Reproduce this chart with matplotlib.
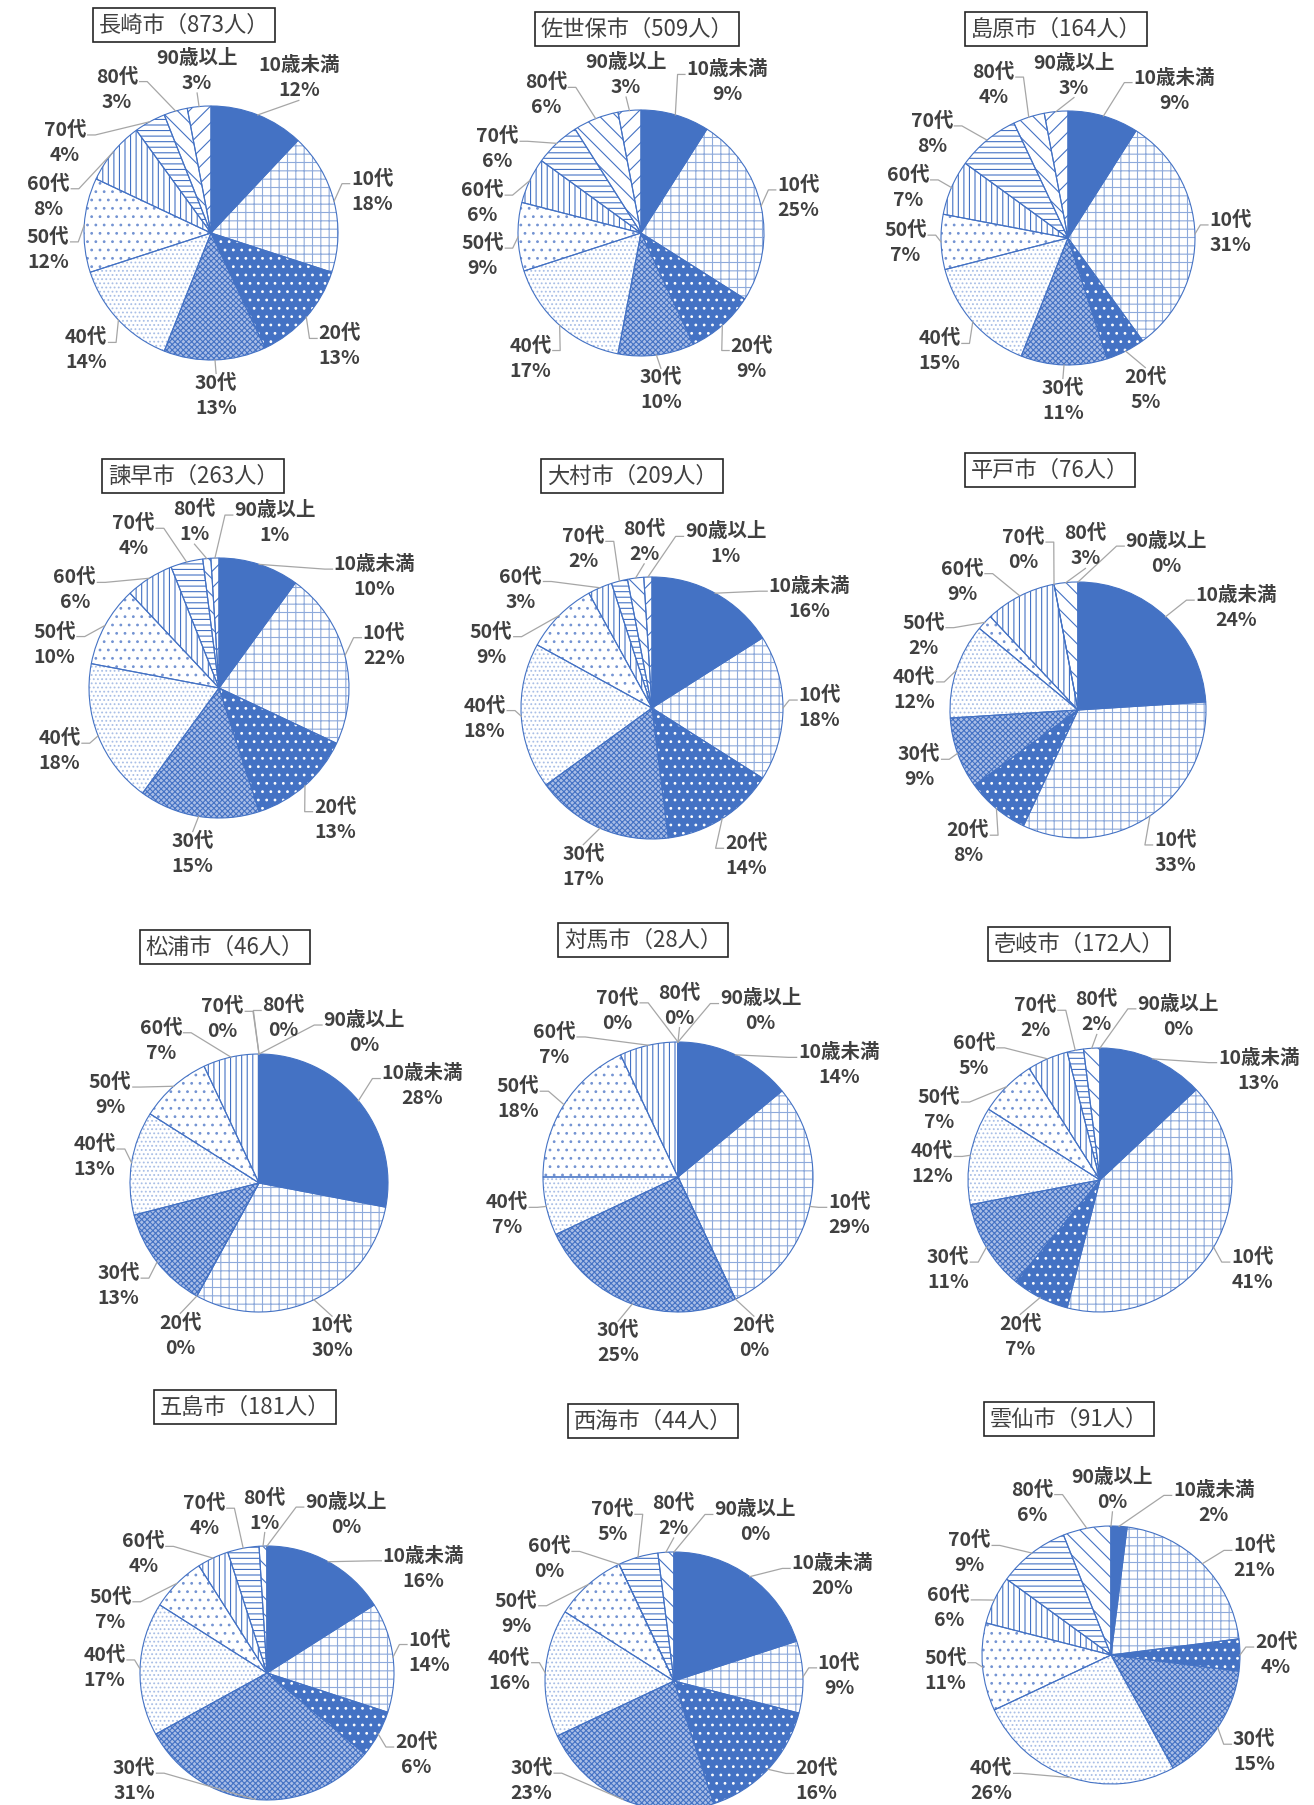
# %% Import packages
import numpy as np
import matplotlib.pyplot as plt

plt.rcParams['font.family'] = ['Noto Sans CJK JP', 'DejaVu Sans']
plt.rcParams['hatch.linewidth'] = 0.8

# %% Data (percent by age group)
ages = ['10歳未満', '10代', '20代', '30代', '40代', '50代', '60代', '70代', '80代', '90歳以上']

cities = ['長崎市', '佐世保市', '島原市', '諫早市', '大村市', '平戸市',
          '松浦市', '対馬市', '壱岐市', '五島市', '西海市', '雲仙市']
people = [873, 509, 164, 263, 209, 76, 46, 28, 172, 181, 44, 91]

nagasaki = [12, 18, 13, 13, 14, 12, 8, 4, 3, 3]
sasebo = [9, 25, 9, 10, 17, 9, 6, 6, 6, 3]
shimabara = [9, 31, 5, 11, 15, 7, 7, 8, 4, 3]
isahaya = [10, 22, 13, 15, 18, 10, 6, 4, 1, 1]
omura = [16, 18, 14, 17, 18, 9, 3, 2, 2, 1]
hirado = [24, 33, 8, 9, 12, 2, 9, 0, 3, 0]
matsuura = [28, 30, 0, 13, 13, 9, 7, 0, 0, 0]
tsushima = [14, 29, 0, 25, 7, 18, 7, 0, 0, 0]
iki = [13, 41, 7, 11, 12, 7, 5, 2, 2, 0]
goto = [16, 14, 6, 31, 17, 7, 4, 4, 1, 0]
saikai = [20, 9, 16, 23, 16, 9, 0, 5, 2, 0]
unzen = [2, 21, 4, 15, 26, 11, 6, 9, 6, 0]

all_values = [nagasaki, sasebo, shimabara, isahaya, omura, hirado,
              matsuura, tsushima, iki, goto, saikai, unzen]

# %% Layout (pixels in the 1314x1805 figure)
W, H = 1314, 1805
pie_xy = [(211, 233), (641, 233), (1068, 238),
          (219, 688), (652, 708), (1078, 710),
          (259, 1183), (678, 1177), (1100, 1180),
          (267, 1673), (674, 1681), (1111, 1655)]
pie_r = [127, 123, 127, 130, 131, 128, 129, 135, 132, 127, 129, 129]
title_xy = [(184, 25), (637, 29), (1056, 29),
            (193, 476), (632, 476), (1050, 470),
            (225, 947), (643, 940), (1079, 944),
            (245, 1407), (653, 1421), (1069, 1419)]

BLUE = '#4472C4'
# face colour, hatch, hatch colour
styles = [
    (BLUE, None, BLUE),
    ('white', '++', '#8eaadb'),
    (BLUE, '..', 'white'),
    ('#a9bde6', 'xxxxxx', BLUE),
    ('white', '....', '#a9bfe6'),
    ('white', '..', '#7393d2'),
    ('white', '|||', BLUE),
    ('white', '---', BLUE),
    ('white', '\\\\', BLUE),
    ('white', '//', BLUE),
]

TXT = '#404040'
L = 2.3
CLR = 1.1

fig = plt.figure(figsize=(W / 100, H / 100), dpi=100)
renderer = fig.canvas.get_renderer()


def box_center(t_deg, w, h):
    u = np.array([np.cos(np.deg2rad(t_deg)), np.sin(np.deg2rad(t_deg))])
    d = 0.8
    while True:
        c = d * u
        nx = np.clip(0, c[0] - w / 2, c[0] + w / 2)
        ny = np.clip(0, c[1] - h / 2, c[1] + h / 2)
        if np.hypot(nx, ny) >= CLR:
            return c
        d += 0.01


def wrap(a):
    return (a + 180) % 360 - 180


def place_labels(sizes, mids, ylow, yhigh):
    # spread labels round the pie, keeping their clockwise order
    th = np.array(mids, float)
    n = len(th)
    gx, gy = 0.12, 0.07
    for _ in range(500):
        P = [box_center(th[i], *sizes[i]) for i in range(n)]
        moved = False
        for i in range(n):
            for j in range(i + 1, n):
                ox = (sizes[i][0] + sizes[j][0]) / 2 + gx - abs(P[j][0] - P[i][0])
                oy = (sizes[i][1] + sizes[j][1]) / 2 + gy - abs(P[j][1] - P[i][1])
                if ox > 0 and oy > 0:
                    if j - i < n / 2:
                        ccw = True
                    elif j - i > n / 2:
                        ccw = False
                    else:
                        ccw = wrap(th[i] - th[j]) >= 0
                    s = 0.5 if ccw else -0.5
                    th[i] += s
                    th[j] -= s
                    moved = True
        for i in range(n):
            w, h = sizes[i]
            c = P[i]
            right = np.cos(np.deg2rad(th[i])) >= 1e-9
            if c[1] - h / 2 < ylow:
                th[i] += 0.5 if right else -0.5
                moved = True
            if c[1] + h / 2 > yhigh:
                th[i] += -0.5 if right else 0.5
                moved = True
        if not moved:
            break
    return [box_center(th[i], *sizes[i]) for i in range(n)]


for k, vals in enumerate(all_values):
    cx, cy = pie_xy[k]
    r = pie_r[k]
    ax = fig.add_axes([(cx - L * r) / W, 1 - (cy + L * r) / H, 2 * L * r / W, 2 * L * r / H])

    wedges, _ = ax.pie(vals, startangle=90, counterclock=False, radius=1)
    for w, (fc, hatch, hc) in zip(wedges, styles):
        w.set_facecolor(fc)
        w.set_edgecolor(hc)
        w.set_linewidth(0)
        if hatch:
            w.set_hatch(hatch)
    ax.pie(vals, startangle=90, counterclock=False, radius=1,
           wedgeprops=dict(fill=False, edgecolor=BLUE, linewidth=0.8))
    ax.set_xlim(-L, L)
    ax.set_ylim(-L, L)
    ax.set_aspect('auto')
    ax.axis('off')
    ax.patch.set_visible(False)

    total = float(sum(vals))
    cum = np.concatenate([[0], np.cumsum(vals)])
    mids = 90 - 360 * (cum[:-1] + np.array(vals) / 2) / total
    anchors_u = [(np.cos(np.deg2rad(m)), np.sin(np.deg2rad(m))) for m in mids]

    texts = []
    sizes = []
    for name, v in zip(ages, vals):
        t = ax.text(0, 0, f'{name}\n{v}%', ha='center', va='center',
                    fontsize=14, fontweight='bold', color=TXT, linespacing=1.4,
                    clip_on=False)
        bb = t.get_window_extent(renderer)
        sizes.append((bb.width / r + 0.02, bb.height / r))
        texts.append(t)

    tx, ty = title_xy[k]
    ylow = -(H - 4 - cy) / r - 0.02
    yhigh = (cy - ty - 24) / r
    pos = place_labels(sizes, mids, ylow, yhigh)

    for t, p, (w, h), (ux, uy) in zip(texts, pos, sizes, anchors_u):
        t.set_position((p[0], p[1]))
        left, right = p[0] - w / 2, p[0] + w / 2
        bot, top = p[1] - h / 2, p[1] + h / 2
        nx = np.clip(ux, left, right)
        ny = np.clip(uy, bot, top)
        if np.hypot(nx - ux, ny - uy) < 0.1:
            continue
        if ux < left or ux > right:
            ex = left if ux < left else right
            ey = p[1] + h * 0.18
            stub = 0.06 if ux < left else -0.06
            ax.plot([ux, ex - stub, ex], [uy, ey, ey], color='#a6a6a6', lw=0.9,
                    clip_on=False, zorder=1)
        else:
            ey = bot if uy < bot else top
            ax.plot([ux, p[0]], [uy, ey], color='#a6a6a6', lw=0.9,
                    clip_on=False, zorder=1)

    fig.text(tx / W, 1 - ty / H, f'{cities[k]}（{people[k]}人）', ha='center', va='center',
             fontsize=16, color=TXT,
             bbox=dict(boxstyle='square,pad=0.25', facecolor='white', edgecolor='#262626',
                       linewidth=1.2))

fig.savefig('out.png', dpi=100)
